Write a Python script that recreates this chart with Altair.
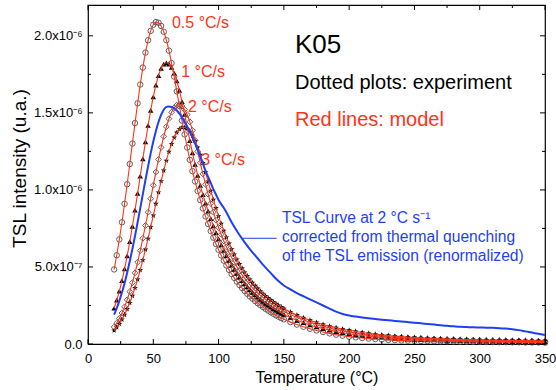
import altair as alt
import pandas as pd

# ---------------- data (intensity in units of 1e-6 a.u.) ----------------
temperature = [20, 22, 24, 26, 28, 30, 32, 34, 36, 38, 40, 42, 44, 46, 48, 50,
               52, 54, 56, 58, 60, 62, 64, 66, 68, 70, 72, 74, 76, 78, 80, 82,
               84, 86, 88, 90, 92, 94, 96, 98, 100, 102, 104, 106, 108, 110,
               112, 114, 116, 118, 120, 122, 124, 126, 128, 130, 132, 134, 136,
               138, 140, 142, 144, 146, 148, 150,
               155, 160, 165, 170, 175, 180, 185, 190, 195, 200, 205, 210, 215,
               220, 225, 230, 235, 240, 245, 250, 255, 260, 265, 270, 275, 280,
               285, 290, 295, 300, 305, 310, 315, 320, 325, 330, 335, 340, 345, 350]

tsl_05 = [0.484, 0.576, 0.679, 0.790, 0.910, 1.037, 1.168, 1.301, 1.434, 1.562,
          1.684, 1.794, 1.891, 1.971, 2.032, 2.072, 2.089, 2.085, 2.064, 2.026,
          1.972, 1.904, 1.823, 1.735, 1.640, 1.545, 1.450, 1.360, 1.275, 1.195,
          1.122, 1.055, 0.993, 0.935, 0.880, 0.828, 0.779, 0.733, 0.690, 0.649,
          0.611, 0.575, 0.541, 0.510, 0.481, 0.454, 0.429, 0.405, 0.383, 0.363,
          0.344, 0.326, 0.309, 0.294, 0.279, 0.265, 0.252, 0.240, 0.228, 0.217,
          0.206, 0.196, 0.186, 0.177, 0.168, 0.160,
          0.142, 0.126, 0.112, 0.099, 0.088, 0.078, 0.069, 0.061, 0.054, 0.048,
          0.043, 0.039, 0.035, 0.032, 0.029, 0.027, 0.025, 0.023, 0.022, 0.021,
          0.020, 0.019, 0.018, 0.017, 0.017, 0.016, 0.015, 0.015, 0.014, 0.014,
          0.013, 0.013, 0.012, 0.012, 0.011, 0.011, 0.010, 0.010, 0.010, 0.009]

tsl_1 = [0.232, 0.284, 0.343, 0.411, 0.488, 0.572, 0.665, 0.764, 0.869, 0.978,
         1.090, 1.202, 1.312, 1.418, 1.516, 1.604, 1.680, 1.742, 1.788, 1.816,
         1.825, 1.817, 1.795, 1.758, 1.708, 1.646, 1.573, 1.490, 1.405, 1.320,
         1.240, 1.165, 1.095, 1.030, 0.970, 0.915, 0.862, 0.813, 0.767, 0.723,
         0.682, 0.644, 0.608, 0.574, 0.542, 0.512, 0.484, 0.458, 0.434, 0.411,
         0.390, 0.370, 0.352, 0.335, 0.319, 0.304, 0.290, 0.277, 0.264, 0.252,
         0.241, 0.230, 0.220, 0.210, 0.201, 0.192,
         0.172, 0.154, 0.138, 0.124, 0.111, 0.100, 0.090, 0.081, 0.073, 0.066,
         0.060, 0.055, 0.050, 0.046, 0.042, 0.039, 0.036, 0.034, 0.032, 0.030,
         0.028, 0.027, 0.026, 0.025, 0.024, 0.023, 0.022, 0.021, 0.020, 0.019,
         0.018, 0.018, 0.017, 0.016, 0.016, 0.015, 0.015, 0.014, 0.014, 0.013]

tsl_2 = [0.110, 0.136, 0.166, 0.201, 0.241, 0.287, 0.340, 0.398, 0.462, 0.531,
         0.606, 0.686, 0.769, 0.855, 0.943, 1.030, 1.116, 1.198, 1.276, 1.347,
         1.410, 1.462, 1.504, 1.533, 1.550, 1.553, 1.544, 1.522, 1.488, 1.442,
         1.387, 1.322, 1.250, 1.176, 1.104, 1.036, 0.972, 0.912, 0.856, 0.804,
         0.756, 0.711, 0.669, 0.630, 0.594, 0.561, 0.530, 0.501, 0.474, 0.449,
         0.426, 0.404, 0.384, 0.365, 0.347, 0.331, 0.316, 0.302, 0.288, 0.276,
         0.264, 0.253, 0.242, 0.232, 0.222, 0.213,
         0.192, 0.173, 0.156, 0.141, 0.127, 0.115, 0.104, 0.094, 0.086, 0.078,
         0.071, 0.065, 0.060, 0.055, 0.051, 0.047, 0.044, 0.041, 0.039, 0.037,
         0.035, 0.033, 0.032, 0.030, 0.029, 0.028, 0.027, 0.026, 0.025, 0.024,
         0.023, 0.022, 0.022, 0.021, 0.020, 0.020, 0.019, 0.019, 0.018, 0.018]

tsl_3 = [0.088, 0.108, 0.131, 0.159, 0.190, 0.227, 0.267, 0.313, 0.364, 0.419,
         0.480, 0.544, 0.613, 0.684, 0.758, 0.834, 0.910, 0.984, 1.057, 1.126,
         1.190, 1.248, 1.298, 1.340, 1.372, 1.394, 1.405, 1.405, 1.396, 1.378,
         1.352, 1.318, 1.276, 1.228, 1.175, 1.115, 1.055, 0.995, 0.937, 0.882,
         0.830, 0.781, 0.735, 0.692, 0.652, 0.615, 0.581, 0.549, 0.519, 0.491,
         0.465, 0.441, 0.419, 0.398, 0.378, 0.360, 0.343, 0.327, 0.312, 0.298,
         0.285, 0.273, 0.261, 0.250, 0.240, 0.230,
         0.208, 0.188, 0.170, 0.154, 0.140, 0.127, 0.116, 0.106, 0.097, 0.089,
         0.082, 0.075, 0.069, 0.064, 0.059, 0.055, 0.051, 0.048, 0.045, 0.042,
         0.040, 0.038, 0.036, 0.034, 0.033, 0.031, 0.030, 0.029, 0.028, 0.027,
         0.026, 0.025, 0.025, 0.024, 0.023, 0.023, 0.022, 0.022, 0.021, 0.021]

temperature_blue = [20, 22, 24, 26, 28, 30, 32, 34, 36, 38, 40, 42, 44, 46, 48,
                    50, 52, 54, 56, 58, 60, 62, 64, 66, 68, 70, 72, 74, 76, 78,
                    80, 82, 84, 86, 88, 90, 92, 94, 96, 98, 100,
                    105, 110, 115, 120, 125, 130, 135, 140, 145, 150, 155, 160,
                    165, 170, 175, 180, 185, 190, 195, 200, 205, 210, 215, 220,
                    225, 230, 235, 240, 245, 250, 255, 260, 265, 270, 275, 280,
                    285, 290, 295, 300, 305, 310, 315, 320, 325, 330, 335, 340,
                    345, 350]
tsl_corrected = [0.191, 0.232, 0.280, 0.334, 0.395, 0.463, 0.537, 0.616, 0.701,
                 0.790, 0.880, 0.973, 1.064, 1.153, 1.237, 1.314, 1.383, 1.441,
                 1.487, 1.520, 1.539, 1.542, 1.538, 1.530, 1.515, 1.495, 1.470,
                 1.440, 1.410, 1.375, 1.340, 1.300, 1.260, 1.215, 1.170, 1.125,
                 1.085, 1.045, 1.005, 0.970, 0.935,
                 0.870, 0.790, 0.720, 0.660, 0.605, 0.555, 0.505, 0.460, 0.415,
                 0.380, 0.355, 0.330, 0.310, 0.290, 0.270, 0.250, 0.230, 0.210,
                 0.195, 0.185, 0.178, 0.172, 0.167, 0.162, 0.158, 0.154, 0.150,
                 0.146, 0.142, 0.138, 0.134, 0.130, 0.126, 0.122, 0.118, 0.115,
                 0.112, 0.110, 0.108, 0.107, 0.106, 0.105, 0.103, 0.100, 0.096,
                 0.090, 0.082, 0.074, 0.066, 0.058]

x_major = [0, 50, 100, 150, 200, 250, 300, 350]
x_minor = [25, 75, 125, 175, 225, 275, 325]
y_major = [0.0, 0.5, 1.0, 1.5, 2.0]
y_minor = [0.25, 0.75, 1.25, 1.75]

rate_labels = ["0.5 °C/s", "1 °C/s", "2 °C/s", "3 °C/s"]
rate_label_T = [64.3, 71.4, 76.5, 86.7]
rate_label_I = [2.049, 1.735, 1.508, 1.162]

blue_lines = ["TSL Curve at 2 °C s⁻¹", "corrected from thermal quenching",
              "of the TSL emission (renormalized)"]
blue_T = [148.5, 148.5, 148.5]
blue_I = [0.783, 0.660, 0.537]
connector_T = [118.2, 144.5]
connector_I = 0.686

# ---------------- styling ----------------
RED = "#ff3318"
BLUE = "#1f3ff5"
GRAY = "#505050"
FONT = "Liberation Sans"
STAR = ("M0,-1L0.235,-0.324L0.951,-0.309L0.38,0.124L0.588,0.809L0,0.4"
        "L-0.588,0.809L-0.38,0.124L-0.951,-0.309L-0.235,-0.324Z")

W, H = 457, 339
xs = alt.Scale(domain=[0, 350], nice=False, zero=False)
ys = alt.Scale(domain=[0, 2.2], nice=False, zero=False)

x_axis = alt.Axis(values=x_major, ticks=False, domain=False, grid=False,
                  labelFontSize=13, labelPadding=8, labelFlush=False,
                  labelColor="black", title="Temperature (°C)",
                  titleFontSize=16, titleFontWeight="normal", titleColor="black",
                  titleBaseline="alphabetic", titleX=W / 2, titleY=38)
y_axis = alt.Axis(values=y_major, ticks=False, domain=False, grid=False,
                  labelFontSize=13, labelPadding=6, labelFlush=False,
                  labelColor="black",
                  labelExpr="datum.value == 0 ? '0.0' : (datum.value == 0.5 ? '5.0x10⁻⁷' : format(datum.value, '.1f') + 'x10⁻⁶')",
                  title="TSL intensity (u.a.)", titleFontSize=19,
                  titleFontWeight="normal", titleColor="black",
                  titleAngle=-90, titleBaseline="alphabetic", titleAlign="center",
                  titleX=-63, titleY=163)


def curve_df(ts, vals):
    return pd.DataFrame({"T": ts, "I": vals})


def xenc():
    return alt.X("T:Q", scale=xs, axis=x_axis)


def yenc():
    return alt.Y("I:Q", scale=ys, axis=y_axis)


# ---------------- layers ----------------
layers = []

# rate labels (drawn under the curves)
layers.append(alt.Chart(pd.DataFrame({"T": rate_label_T, "I": rate_label_I, "t": rate_labels}))
              .mark_text(align="left", baseline="alphabetic", fontSize=16, color=RED, font=FONT)
              .encode(x=xenc(), y=yenc(), text="t:N"))

# experimental markers
layers.append(alt.Chart(curve_df(temperature, tsl_05)).mark_point(
    shape="circle", filled=False, size=30, stroke=GRAY, strokeWidth=0.9, opacity=1)
    .encode(x=xenc(), y=yenc()))
layers.append(alt.Chart(curve_df(temperature, tsl_1)).mark_point(
    shape="triangle-up", filled=True, size=30, color="black", opacity=1)
    .encode(x=xenc(), y=yenc()))
layers.append(alt.Chart(curve_df(temperature, tsl_2)).mark_point(
    shape="diamond", filled=False, size=34, stroke=GRAY, strokeWidth=0.9, opacity=1)
    .encode(x=xenc(), y=yenc()))
layers.append(alt.Chart(curve_df(temperature, tsl_3)).mark_point(
    shape=STAR, filled=True, size=36, color="black", opacity=1)
    .encode(x=xenc(), y=yenc()))

# model lines
for vals in [tsl_05, tsl_1, tsl_2, tsl_3]:
    layers.append(alt.Chart(curve_df(temperature, vals)).mark_line(
        color=RED, strokeWidth=1.1, interpolate="monotone")
        .encode(x=xenc(), y=yenc()))

# corrected curve
layers.append(alt.Chart(curve_df(temperature_blue, tsl_corrected)).mark_line(
    color=BLUE, strokeWidth=2, interpolate="monotone")
    .encode(x=xenc(), y=yenc()))

# connector + blue text
layers.append(alt.Chart(pd.DataFrame({"T": [connector_T[0]], "T2": [connector_T[1]], "I": [connector_I]}))
              .mark_rule(color=BLUE, strokeWidth=1)
              .encode(x=xenc(), x2="T2:Q", y=yenc()))
layers.append(alt.Chart(pd.DataFrame({"T": blue_T, "I": blue_I, "t": blue_lines}))
              .mark_text(align="left", baseline="alphabetic", fontSize=15.6, color=BLUE, font=FONT)
              .encode(x=xenc(), y=yenc(), text="t:N"))

# legend-like texts
layers.append(alt.Chart(pd.DataFrame({"T": [158.5], "I": [1.887], "t": ["K05"]}))
              .mark_text(align="left", baseline="alphabetic", fontSize=26, color="black", font=FONT)
              .encode(x=xenc(), y=yenc(), text="t:N"))
layers.append(alt.Chart(pd.DataFrame({"T": [158.5], "I": [1.653], "t": ["Dotted plots: experiment"]}))
              .mark_text(align="left", baseline="alphabetic", fontSize=20, color="black", font=FONT)
              .encode(x=xenc(), y=yenc(), text="t:N"))
layers.append(alt.Chart(pd.DataFrame({"T": [158.5], "I": [1.415], "t": ["Red lines: model"]}))
              .mark_text(align="left", baseline="alphabetic", fontSize=20, color=RED, font=FONT)
              .encode(x=xenc(), y=yenc(), text="t:N"))

# inward tick marks on all four sides
for vals, ln in [(x_major, 5), (x_minor, 3)]:
    d = pd.DataFrame({"T": vals})
    layers.append(alt.Chart(d).mark_rule(color="black", strokeWidth=1).encode(
        x=xenc(), y=alt.value(H), y2=alt.value(H - ln)))
    layers.append(alt.Chart(d).mark_rule(color="black", strokeWidth=1).encode(
        x=xenc(), y=alt.value(0), y2=alt.value(ln)))
for vals, ln in [(y_major, 5), (y_minor, 3)]:
    d = pd.DataFrame({"I": vals})
    layers.append(alt.Chart(d).mark_rule(color="black", strokeWidth=1).encode(
        y=yenc(), x=alt.value(0), x2=alt.value(ln)))
    layers.append(alt.Chart(d).mark_rule(color="black", strokeWidth=1).encode(
        y=yenc(), x=alt.value(W), x2=alt.value(W - ln)))

chart = alt.layer(*layers).properties(
    width=W, height=H,
    padding={"left": 88, "top": 5, "right": 11, "bottom": 46},
    autosize=alt.AutoSizeParams(type="none"),
).configure(font=FONT, background="white").configure_view(
    stroke="black", strokeWidth=1.2
).configure_axis(labelFont=FONT, titleFont=FONT)

chart.save("out.html", embed_options={"renderer": "svg", "actions": False})
